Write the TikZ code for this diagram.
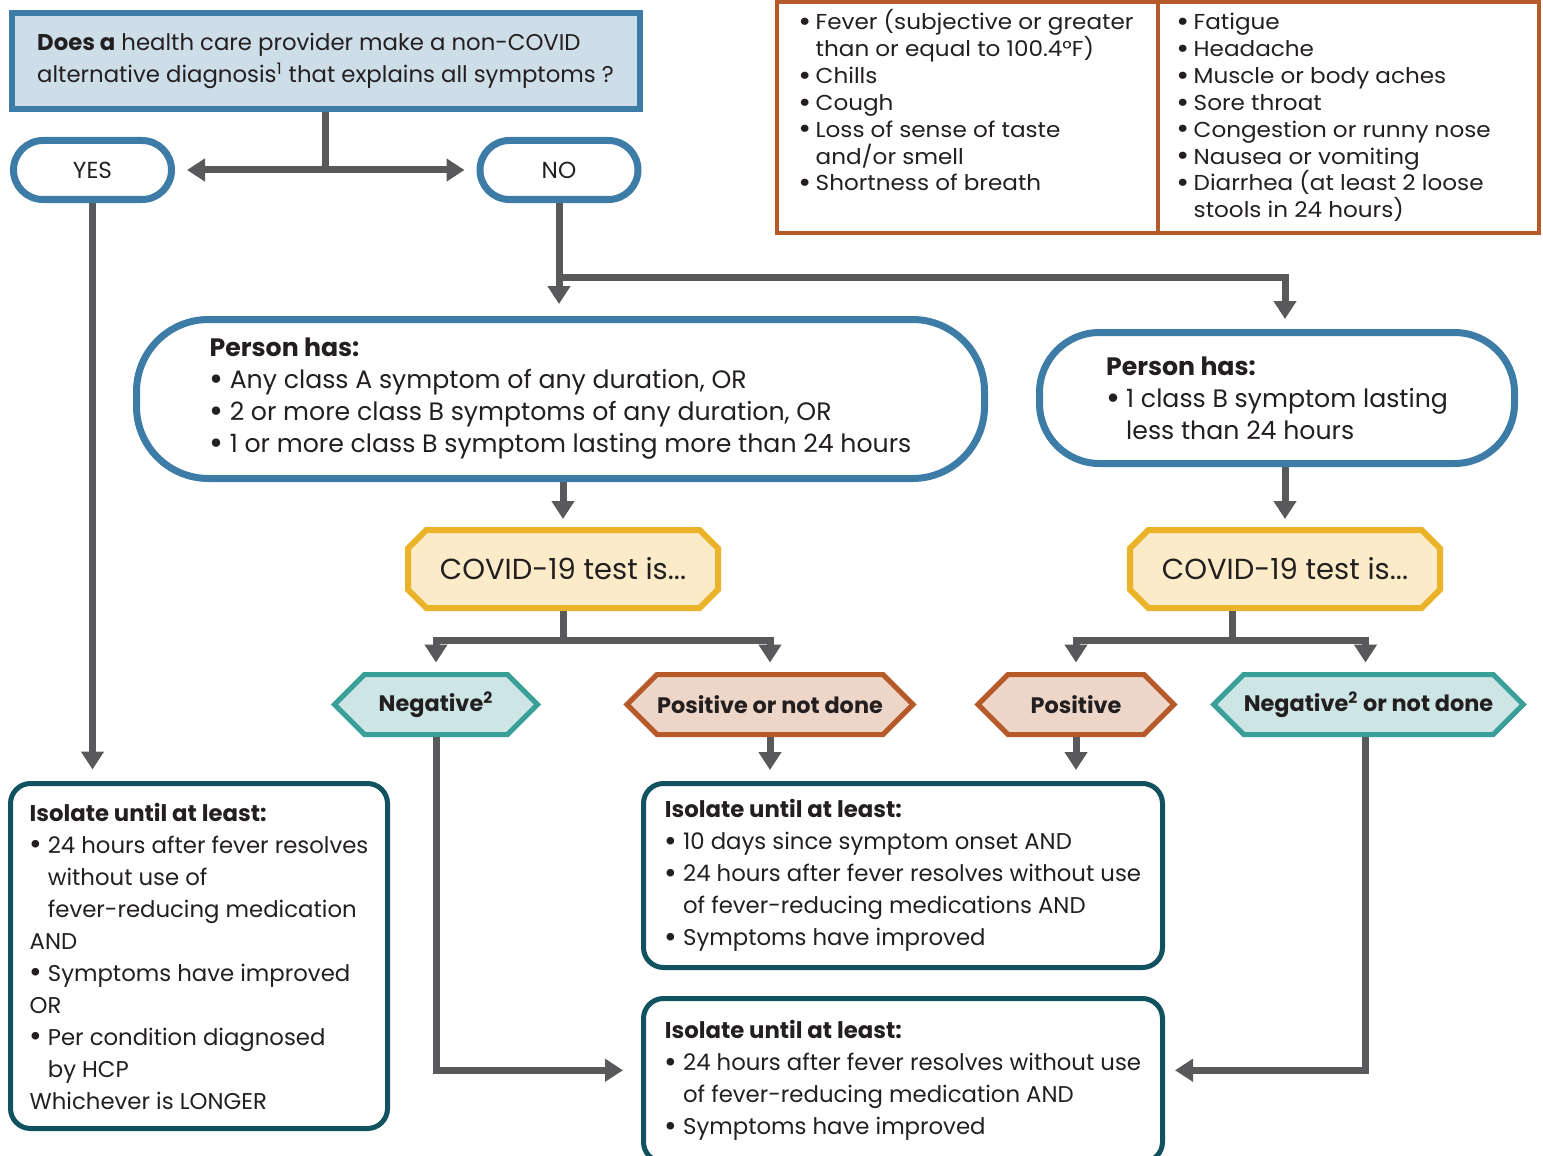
\documentclass[tikz,border=0pt]{standalone}
\usepackage{fontspec}
\setmainfont{Poppins}
\newfontfamily\widefont{Poppins}[FakeStretch=1.07]
\usetikzlibrary{shapes.misc,shapes.symbols,arrows.meta}

\definecolor{ink}{HTML}{231F20}
\definecolor{qblue}{HTML}{3C7CA7}
\definecolor{qfill}{HTML}{CEDEE8}
\definecolor{arrgray}{HTML}{59585A}
\definecolor{rust}{HTML}{B65A2A}
\definecolor{rustfill}{HTML}{EDD6C8}
\definecolor{gold}{HTML}{EBB32A}
\definecolor{goldfill}{HTML}{FBEBC8}
\definecolor{teal}{HTML}{3A9E99}
\definecolor{tealfill}{HTML}{CDE6E5}
\definecolor{deepteal}{HTML}{10525F}

\newcommand{\bul}{\makebox[0.8em][l]{\raisebox{-0.08em}{\scalebox{1.35}{\textbullet}}}}
\newcommand{\ind}{\hspace*{0.8em}}

\begin{document}
\begin{tikzpicture}[
      x=0.5pt, y=-0.5pt,
      every node/.style={font=\fontsize{11.4}{16}\selectfont, text=ink, align=left, inner sep=0pt},
      >={Triangle[width=11pt,length=9pt]},
      line/.style={draw=arrgray, line width=3.5pt},
      arr/.style={line, ->},
      question/.style={draw=qblue, fill=qfill, line width=3pt, minimum width=314pt, minimum height=48pt},
      pill/.style={rounded rectangle, draw=qblue, fill=white, line width=3.5pt, minimum width=79pt, minimum height=29.5pt,
        font=\fontsize{11.6}{14}\selectfont},
      person/.style={draw=qblue, fill=white, line width=3.5pt, font=\fontsize{12.6}{16}\selectfont},
      sympbox/.style={draw=rust, line width=2pt, minimum width=190.5pt, minimum height=115.5pt},
      symptext/.style={font=\widefont\fontsize{10.8}{13.45}\selectfont, anchor=north west},
      testbox/.style={chamfered rectangle, chamfered rectangle xsep=11pt, draw=gold, fill=goldfill, line width=3pt,
        minimum width=155pt, minimum height=39pt, font=\fontsize{14.5}{16}\selectfont},
      result/.style={signal, signal to=west and east, signal pointer angle=90, line width=2.5pt,
        minimum height=30pt, font=\fontsize{11.2}{12}\selectfont\bfseries},
      negbox/.style={result, draw=teal, fill=tealfill},
      posbox/.style={result, draw=rust, fill=rustfill},
      isolate/.style={draw=deepteal, fill=white, line width=2.5pt, rounded corners=10pt},
    ]
    \useasboundingbox (0,0) rectangle (1543,1156);

    \node[question] (q) at (325.5,61)
      {\textbf{Does a} health care provider make a non-COVID\\
       alternative diagnosis\textsuperscript{1} that explains all symptoms ?};
    \node[pill] (yes) at (92.5,170) {YES};
    \node[pill] (no) at (559,170) {NO};

    \node[sympbox] (sympA) at (967.5,117.5) {};
    \node[sympbox] (sympB) at (1348.5,117.5) {};
    \node[symptext] (symA) at (798,9)
      {\bul Fever (subjective or greater\\
       \ind than or equal to 100.4°F)\\
       \bul Chills\\
       \bul Cough\\
       \bul Loss of sense of taste\\
       \ind and/or smell\\
       \bul Shortness of breath};
    \node[symptext] (symB) at (1176,9)
      {\bul Fatigue\vphantom{(}\\
       \bul Headache\\
       \bul Muscle or body aches\\
       \bul Sore throat\\
       \bul Congestion or runny nose\\
       \bul Nausea or vomiting\\
       \bul Diarrhea (at least 2 loose\\
       \ind stools in 24 hours)};

    \node[person, rounded corners=36pt, minimum width=424pt, minimum height=79.5pt] (pA) at (560.5,399)
      {\textbf{Person has:}\\
       \bul Any class A symptom of any duration, OR\\
       \bul 2 or more class B symptoms of any duration, OR\\
       \bul 1 or more class B symptom lasting more than 24 hours};
    \node[person, rounded corners=30pt, minimum width=237.5pt, minimum height=65.5pt] (pB) at (1277,398)
      {\textbf{Person has:}\\
       \bul 1 class B symptom lasting\\
       \ind less than 24 hours};

    \node[testbox] (cA) at (563,569) {COVID-19 test is...};
    \node[testbox] (cB) at (1285,569) {COVID-19 test is...};

    \node[negbox, minimum width=101.5pt] (negA) at (436,704.5) {Negative\textsuperscript{2}};
    \node[posbox, minimum width=143pt] (posA) at (770,704.5) {Positive or not done};
    \node[posbox, minimum width=98pt] (posB) at (1076,704.5) {Positive};
    \node[negbox, minimum width=154pt] (negB) at (1368.5,704.5) {Negative\textsuperscript{2} or not done};

    \node[isolate, minimum width=188.5pt, minimum height=172.5pt] (isoA) at (199,956)
      {\textbf{Isolate until at least:}\\
       \bul 24 hours after fever resolves\\
       \ind without use of\\
       \ind fever-reducing medication\\
       AND\\
       \bul Symptoms have improved\\
       OR\\
       \bul Per condition diagnosed\\
       \ind by HCP\\
       Whichever is LONGER};
    \node[isolate, minimum width=259.5pt, minimum height=92pt] (isoB) at (903,875.5)
      {\textbf{Isolate until at least:}\\
       \bul 10 days since symptom onset AND\\
       \bul 24 hours after fever resolves without use\\
       \ind of fever-reducing medications AND\\
       \bul Symptoms have improved};
    \node[isolate, minimum width=259.5pt, minimum height=81.75pt] (isoC) at (903,1080.25)
      {\textbf{Isolate until at least:}\\
       \bul 24 hours after fever resolves without use\\
       \ind of fever-reducing medication AND\\
       \bul Symptoms have improved};

    \coordinate (split) at (559,277);
    \coordinate (jA) at (563,640);
    \coordinate (jB) at (1232,640);

    \draw[line] (q.south) -- (q.south |- yes.east);
    \draw[line, <->, shorten <=6pt, shorten >=6pt] (yes.east) -- (no.west);
    \draw[arr, shorten >=5.75pt] (yes.south) -- (yes.south |- isoA.north);
    \draw[arr, shorten >=6pt] (no.south) -- (no.south |- pA.north);
    \draw[arr, shorten >=5pt] (split) -| ([xshift=4pt]pB.north);
    \draw[arr, shorten >=4pt] (pA.south -| cA.north) -- (cA.north);
    \draw[arr, shorten >=4pt] ([xshift=4pt]pB.south) -- (cB.north);
    \draw[line] (cA.south) -- (jA);
    \draw[arr, shorten >=4.75pt] (jA) -| (negA.north);
    \draw[arr, shorten >=4.75pt] (jA) -| (posA.north);
    \draw[line] (jB |- cB.south) -- (jB);
    \draw[arr, shorten >=4.75pt] (jB) -| (posB.north);
    \draw[arr, shorten >=4.75pt] (jB) -| ([xshift=-1.5pt]negB.north);
    \draw[arr, shorten >=5.5pt] (posA.south) -- (posA.south |- isoB.north);
    \draw[arr, shorten >=5.5pt] (posB.south) -- (posB.south |- isoB.north);
    \draw[arr, shorten >=9pt] (negA.south) |- ([yshift=5pt]isoC.west);
    \draw[arr, shorten >=5pt] ([xshift=-1.5pt]negB.south) |- ([yshift=5pt]isoC.east);
    \end{tikzpicture}
\end{document}
